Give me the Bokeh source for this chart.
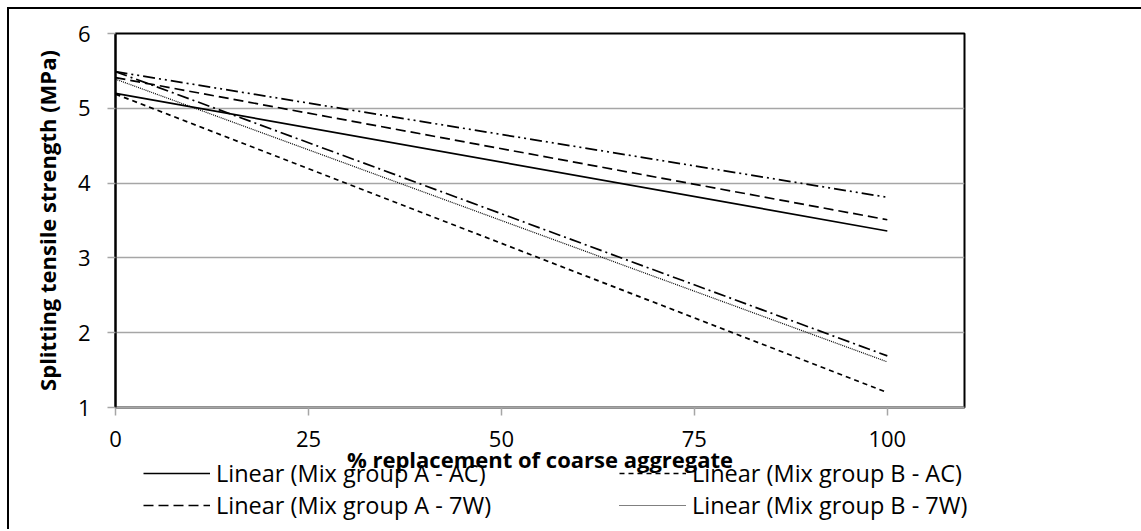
from bokeh.plotting import figure
from bokeh.models import Legend, LegendItem, FixedTicker, Range1d, GlobalInlineStyleSheet
from bokeh.embed import file_html
from bokeh.resources import INLINE

# % replacement of coarse aggregate (trend line end points)
x_pct = [0, 100]
# Splitting tensile strength (MPa), linear trend lines
mix_a_ac = [5.20, 3.36]
mix_a_7w = [5.41, 3.51]
mix_b_ac = [5.19, 1.20]
mix_b_7w = [5.39, 1.61]
# two further trend lines whose legend entries are cut off in the original
mix_c_ac = [5.49, 1.69]
mix_c_7w = [5.49, 3.81]

x_ticks = [0, 25, 50, 75, 100]
y_ticks = [1, 2, 3, 4, 5, 6]

legend_labels = ["Linear (Mix group A - AC)", "Linear (Mix group B - AC)",
                 "Linear (Mix group A - 7W)", "Linear (Mix group B - 7W)"]

FONT = "Open Sans"
GRID = "#a6a6a6"

p = figure(width=1136, height=471, output_backend="svg", toolbar_location=None,
           x_range=Range1d(0, 110), y_range=Range1d(1, 6),
           min_border_left=106, min_border_right=181,
           min_border_top=24, min_border_bottom=73)
p.styles = {"border-top": "2px solid black", "border-left": "2px solid black",
            "margin-left": "7px", "margin-top": "7px"}
p.stylesheets = [GlobalInlineStyleSheet(css="html, body { overflow: hidden; }")]

p.outline_line_color = "black"
p.outline_line_width = 2
p.background_fill_color = "white"
p.border_fill_color = "white"

p.xgrid.visible = False
p.ygrid.grid_line_color = GRID
p.ygrid.grid_line_width = 1.5
p.ygrid.ticker = FixedTicker(ticks=y_ticks)

p.xaxis.ticker = FixedTicker(ticks=x_ticks)
p.yaxis.ticker = FixedTicker(ticks=y_ticks)
for ax in (p.xaxis, p.yaxis):
    ax.major_tick_in = 0
    ax.major_tick_out = 8
    ax.major_tick_line_color = GRID
    ax.major_tick_line_width = 1.5
    ax.minor_tick_line_color = None
    ax.major_label_text_font = FONT
    ax.major_label_text_font_size = "22px"
    ax.major_label_text_color = "black"
    ax.axis_label_text_font = FONT
    ax.axis_label_text_font_size = "22px"
    ax.axis_label_text_font_style = "bold"
    ax.axis_label_text_color = "black"

p.xaxis.axis_line_color = GRID
p.xaxis.axis_line_width = 2
p.yaxis.axis_line_color = "black"
p.yaxis.axis_line_width = 2
p.xaxis.major_label_standoff = 15
p.xaxis.axis_label_standoff = -6
p.yaxis.major_label_standoff = 17
p.yaxis.axis_label_standoff = 13
p.xaxis.axis_label = "% replacement of coarse aggregate"
p.yaxis.axis_label = "Splitting tensile strength (MPa)"

styles = [dict(line_width=1.7),
          dict(line_width=1.7, line_dash="10 5"),
          dict(line_width=1.7, line_dash="5 4"),
          dict(line_width=1.2, line_dash="1 1"),
          dict(line_width=1.7, line_dash="12 4 2 4"),
          dict(line_width=1.7, line_dash="12 4 2 4 2 4")]
series = [mix_a_ac, mix_a_7w, mix_b_ac, mix_b_7w, mix_c_ac, mix_c_7w]
for s, st in zip(series, styles):
    p.line(x_pct, s, line_color="black", **st)

# legend strip (its own figure so that it can sit outside the plot frame)
q = figure(width=1136, height=76, output_backend="svg", toolbar_location=None,
           x_range=Range1d(0, 1), y_range=Range1d(-10, -9), min_border=0)
q.axis.visible = False
q.grid.visible = False
q.outline_line_color = None
q.background_fill_alpha = 0
q.border_fill_alpha = 0
q.styles = {"margin-top": "-25px", "margin-left": "7px", "border-left": "2px solid black"}
leg_r = [q.line(x_pct, s, line_color="black", **st) for s, st in zip(series[:4], styles[:4])]
order = [0, 2, 1, 3]  # A-AC, B-AC, A-7W, B-7W (row by row)
legend = Legend(items=[LegendItem(label=legend_labels[k], renderers=[leg_r[i]])
                       for k, i in enumerate(order)],
                orientation="horizontal", ncols=2, location=(134, 8))
legend.margin = 0
legend.padding = 0
legend.border_line_color = None
legend.background_fill_alpha = 0
legend.glyph_width = 67
legend.glyph_height = 20
legend.label_height = 20
legend.label_width = 403
legend.label_standoff = 6
legend.spacing = 0
legend.label_text_font = FONT
legend.label_text_font_size = "23.5px"
legend.label_text_color = "black"
q.add_layout(legend)

open("out.html", "w").write(file_html([p, q], INLINE))
